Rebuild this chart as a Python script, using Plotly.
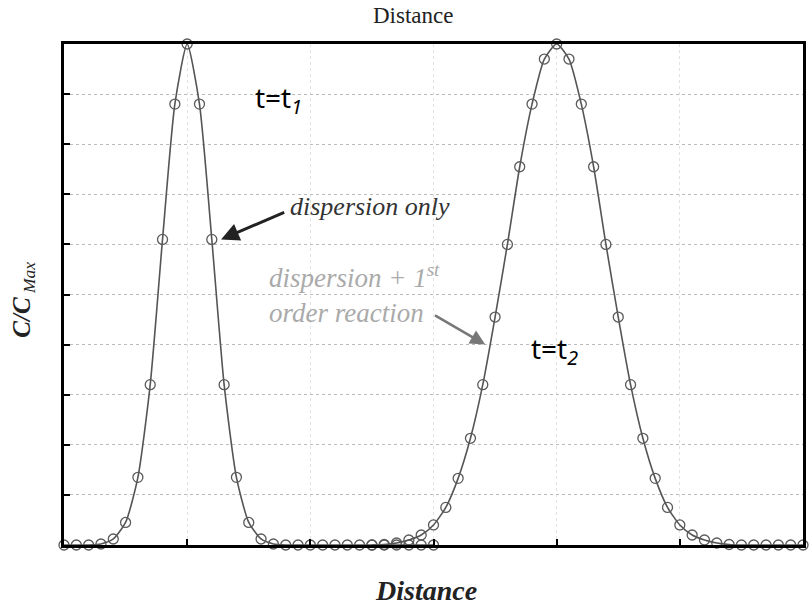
import plotly.graph_objects as go

# Data
x_disp = [0.0, 0.1, 0.2, 0.3, 0.4, 0.5, 0.6, 0.7, 0.8, 0.9, 1.0, 1.1, 1.2, 1.3, 1.4,
          1.5, 1.6, 1.7, 1.8, 1.9, 2.0, 2.1, 2.2, 2.3, 2.4, 2.5, 2.6, 2.7, 2.8, 2.9, 3.0]
c_disp = [0.0, 0.0, 0.0, 0.002, 0.012, 0.045, 0.135, 0.32, 0.61, 0.88, 1.0, 0.88, 0.61, 0.32, 0.135,
          0.045, 0.012, 0.002, 0.0, 0.0, 0.0, 0.0, 0.0, 0.0, 0.0, 0.0, 0.0, 0.0, 0.0, 0.0, 0.0]

x_react = [2.5, 2.6, 2.7, 2.8, 2.9, 3.0, 3.1, 3.2, 3.3, 3.4, 3.5, 3.6, 3.7, 3.8, 3.9, 4.0,
           4.1, 4.2, 4.3, 4.4, 4.5, 4.6, 4.7, 4.8, 4.9, 5.0, 5.1, 5.2, 5.3, 5.4, 5.5,
           5.6, 5.7, 5.8, 5.9, 6.0]
c_react = [0.0, 0.001, 0.004, 0.01, 0.02, 0.04, 0.075, 0.133, 0.213, 0.32, 0.455, 0.60, 0.755, 0.88, 0.97, 1.0,
           0.97, 0.88, 0.755, 0.60, 0.455, 0.32, 0.213, 0.133, 0.075, 0.04, 0.02, 0.01, 0.004, 0.001, 0.0,
           0.0, 0.0, 0.0, 0.0, 0.0]

y_ticks = [0.0, 0.1, 0.2, 0.3, 0.4, 0.5, 0.6, 0.7, 0.8, 0.9, 1.0]
x_ticks = [0, 1, 2, 3, 4, 5, 6]

fig = go.Figure()
for xs, ys in [(x_disp, c_disp), (x_react, c_react)]:
    fig.add_trace(go.Scatter(
        x=xs, y=ys, mode="lines+markers",
        line=dict(color="#555555", width=1.6, shape="spline", smoothing=0.6),
        marker=dict(symbol="circle-open", size=10, color="#5a5a5a", line=dict(width=1.3, color="#5a5a5a")),
        showlegend=False, cliponaxis=False,
    ))

serif = "Liberation Serif, Times New Roman, serif"
sans = "Noto Sans, Open Sans, Liberation Sans, sans-serif"

fig.update_layout(
    width=809, height=607,
    margin=dict(l=64, r=3, t=44, b=62),
    paper_bgcolor="white", plot_bgcolor="white",
    xaxis=dict(range=[0, 6], tickvals=x_ticks, showticklabels=False,
               ticks="inside", ticklen=6, tickwidth=2, tickcolor="black",
               showline=True, linecolor="black", linewidth=3, mirror=True,
               showgrid=True, gridcolor="#e2e2e2", griddash="dot", gridwidth=1,
               zeroline=False),
    yaxis=dict(range=[0, 1], tickvals=y_ticks, showticklabels=False,
               ticks="inside", ticklen=6, tickwidth=2, tickcolor="black",
               showline=True, linecolor="black", linewidth=3, mirror=True,
               showgrid=True, gridcolor="#bbbbbb", griddash="dot", gridwidth=1,
               zeroline=False),
)

ann = [
    dict(text="Distance", x=0.472, y=1 + (44 - 15) / 501.0, xref="paper", yref="paper",
         yanchor="middle", font=dict(family=serif, size=23, color="#222222")),
    dict(text="<b><i>Distance</i></b>", x=0.49, y=-(590 - 545) / 501.0, xref="paper", yref="paper",
         yanchor="middle", font=dict(family=serif, size=28, color="#222222")),
    dict(text="<b><i>C/C</i></b><sub><i> Max</i></sub>", x=(23 - 64) / 742.0, y=0.49, xref="paper", yref="paper",
         textangle=-90, xanchor="center", yanchor="middle",
         font=dict(family=serif, size=25, color="#222222")),
    dict(text="t=t<sub><i>1</i></sub>", x=1.74, y=0.89, xref="x", yref="y",
         font=dict(family=sans, size=28, color="black")),
    dict(text="t=t<sub><i>2</i></sub>", x=3.98, y=0.39, xref="x", yref="y",
         font=dict(family=sans, size=28, color="black")),
    dict(text="<i>dispersion only</i>", x=1.82, y=0.675, xref="x", yref="y", xanchor="left",
         font=dict(family=serif, size=26, color="#333333")),
    dict(text="<i>dispersion + 1<sup>st</sup><br>order reaction</i>", x=1.65, y=0.503, xref="x", yref="y",
         xanchor="left", align="left",
         font=dict(family=serif, size=27, color="#aaaaaa")),
]
for a in ann:
    a.setdefault("showarrow", False)
    fig.add_annotation(**a)

# Arrows
fig.add_annotation(x=1.275, y=0.61, ax=1.80, ay=0.665, xref="x", yref="y", axref="x", ayref="y",
                   showarrow=True, arrowhead=2, arrowsize=1.2, arrowwidth=3, arrowcolor="#222222", text="")
fig.add_annotation(x=3.42, y=0.40, ax=3.0, ay=0.46, xref="x", yref="y", axref="x", ayref="y",
                   showarrow=True, arrowhead=2, arrowsize=1.2, arrowwidth=2.5, arrowcolor="#777777", text="")

fig.write_html("out.html", config={"displayModeBar": False},
               post_script="document.body.style.margin='0px';")
